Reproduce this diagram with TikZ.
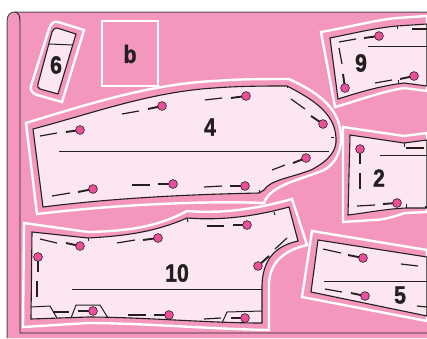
\documentclass[tikz,border=0pt]{standalone}
\usepackage{fontspec}
\setmainfont[FakeStretch=0.85,BoldFeatures={FakeBold=1.2}]{Liberation Sans}
\definecolor{sheetpink}{HTML}{F497BF}
\definecolor{piecepink}{HTML}{FCE6F1}
\definecolor{pinpink}{HTML}{EC4F9A}
\definecolor{inkdark}{HTML}{231F20}
\tikzset{
	seamwhite/.style={draw=white, line width=2.4pt, line join=miter},
	piece/.style={draw=inkdark, line width=1.1pt, fill=piecepink},
	detail/.style={draw=inkdark, line width=1pt},
	dashline/.style={draw=inkdark, line width=1.2pt},
	stub/.style={draw=inkdark, line width=1.9pt},
	pinhead/.style={circle, draw=inkdark, line width=0.6pt, fill=pinpink, inner sep=0pt, minimum size=8.8pt},
	number/.style={font=\bfseries\fontsize{25}{25}\selectfont, text=inkdark, inner sep=0pt}
}
\begin{document}
\begin{tikzpicture}[x=1pt,y=-1pt]
	\useasboundingbox (0,0) rectangle (427,338);
	\clip (0,0) rectangle (427,338);
	% sheet
	\fill[sheetpink] (7,338) -- (7,22) .. controls (7,15) and (10,12) .. (15,12) -- (427,12) -- (427,338) -- cycle;
	\draw[inkdark!80, line width=1pt] (7,338) -- (7,22) .. controls (7,15) and (10,12) .. (15,12) -- (427,12);
	\draw[inkdark, line width=0.9pt] (15,12) .. controls (19,13) and (20,16) .. (20,22) -- (20,333) -- (427,333);
	% piece 6
	\draw[seamwhite] (58,22) -- (84,30) -- (62,102) -- (37,95) .. controls (32,93) and (30,90) .. (31,86) -- (49,29) .. controls (51,23) and (54,21) .. (58,22) -- cycle;
	\draw[piece] (57,28) -- (76,34) -- (58,94) -- (40,89) .. controls (38,88) and (37,86) .. (38,84) -- (52,32) .. controls (53,29) and (55,28) .. (57,28) -- cycle;
	\draw[detail] (49,44) -- (72.5,45);
	% box b
	\draw[seamwhite] (102,21) rectangle (158,86);
	% piece 4
	\draw[seamwhite] (26,123) .. controls (85,105) and (150,84) .. (214,81) .. controls (240,79) and (265,79) .. (289,79) .. controls (312,90) and (341,105) .. (341,138) .. controls (341,152) and (335,164) .. (324,170) .. controls (300,180) and (270,185) .. (264,203) .. controls (220,201) and (130,203) .. (37,214) -- cycle;
	\draw[piece] (33,129) .. controls (90,114) and (150,92) .. (214,88) .. controls (240,86) and (265,86) .. (287,86) .. controls (310,98) and (335,112) .. (336,138) .. controls (337,150) and (330,160) .. (311,170) .. controls (290,178) and (270,180) .. (264,190) -- (259,193) .. controls (215,194) and (130,196) .. (43,207) -- cycle;
	\draw[detail] (59,151) -- (329,151);
	\draw[detail] (287,86) -- (287,88);
	\draw[detail] (259,193) -- (259,190);
	\draw[detail] (334,137) -- (331,137);
	% piece 10
	\draw[seamwhite] (24,223) -- (88,232) .. controls (125,231) and (155,228) .. (187,211) .. controls (225,214) and (260,208) .. (292,199) -- (307,245) .. controls (285,250) and (269,262) .. (269,285) -- (269,330) .. controls (210,329) and (140,323) .. (88,323) -- (23,327) -- cycle;
	\draw[piece] (32,232) -- (88,238) .. controls (125,236) and (155,232) .. (187,218) .. controls (225,221) and (260,215) .. (289,207) -- (298,241) .. controls (280,245) and (263,255) .. (262,285) -- (262,323) .. controls (210,323) and (140,317) .. (88,317) -- (31,319) -- cycle;
	\draw[detail] (72,289) -- (262,289);
	\draw[detail] (31,307) -- (50,306) -- (57,318);
	\draw[detail] (71,318) -- (76,305) -- (100,305) -- (108,318);
	\draw[detail] (222,323) -- (227,312) -- (262,311);
	\draw[detail] (88,238) -- (88,241);
	\draw[detail] (187,218) -- (188,222);
	\draw[detail] (274,212) -- (275,215);
	% piece 9
	\draw[seamwhite] (321,32) .. controls (350,27) and (375,20) .. (397,18) -- (427,16) -- (427,91) -- (404,88) .. controls (380,92) and (360,100) .. (335,107) -- cycle;
	\draw[piece] (330,38) .. controls (355,33) and (375,28) .. (397,26) -- (427,24) -- (427,86) -- (404,83) .. controls (380,86) and (360,92) .. (338,99) -- cycle;
	\draw[detail] (368,46) -- (427,46);
	\draw[detail] (397,26) -- (397,29);
	\draw[detail] (398,80) -- (398,83);
	% piece 2
	\draw[seamwhite] (343,127) -- (404,136) -- (427,133) -- (427,212) -- (405,213) .. controls (395,216) and (385,220) .. (373,220) -- (343,222) -- cycle;
	\draw[piece] (350,135) -- (404,143) -- (427,140) -- (427,208) -- (406,208) .. controls (385,209) and (365,213) .. (348,215) -- cycle;
	\draw[detail] (380,155) -- (427,155);
	\draw[detail] (404,143) -- (404,147);
	\draw[detail] (406,204) -- (406,208);
	% piece 5
	\draw[seamwhite] (312,231) -- (427,250) -- (427,321) -- (302,297) -- cycle;
	\draw[piece] (318,240) -- (427,257) -- (427,316) -- (311,292) -- cycle;
	\draw[detail] (324,281) -- (427,281);
	% long dashes
	\foreach \ax/\ay/\bx/\by in {40/136/57/133, 122/114/139/111, 205/100/222/98, 291/99/305/109, 272/170/285/165, 52/196/70/193, 132/185/150/185, 204/187/222/186,
		40/239/57/243, 117/243/135/240, 207/226/224/226, 37/281/37/297, 287/238/275/249, 53/312/69/312, 128/315/146/315, 204/319/221/318,
		339/42/356/39, 339/48/342/64, 375/83/392/80, 412/29/427/29,
		406/148/424/148, 360/173/360/189, 357/206/375/205, 425/207/427/207,
		323/249/341/253, 325/289/342/292, 401/264/418/266, 417/306/427/307}
		\draw[dashline] (\ax,\ay) -- (\bx,\by);
	% pins with their stubs
	\foreach \sx/\sy/\px/\py [count=\i] in {66/132/80/130, 148/109/162/106, 231/98/246/96, 311/116/323/124, 293/163/306/158, 78/192/93/189, 158/184/173/184, 230/186/245/186,
		66/243/80/246, 143/240/158/238, 38/272/38/257, 78/311/93/311, 154/315/169/315, 233/225/247/225, 269/256/258/266, 231/318/245/318,
		364/38/379/36, 343/74/345/88, 400/79/414/76,
		360/164/360/149, 383/204/397/203,
		348/255/363/258, 351/293/365/296} {
		\draw[stub] (\sx,\sy) -- (\px,\py);
		\node[pinhead] (pin\i) at (\px,\py) {};
	}
	% numbers
	\node[number] (label6) at (56,65) {6};
	\node[number] (labelb) at (130,54) {b};
	\node[number] (label4) at (210,127) {4};
	\node[number] (label9) at (361,63) {9};
	\node[number] (label2) at (379,178) {2};
	\node[number] (label10) at (177,273) {10};
	\node[number] (label5) at (400,295) {5};
\end{tikzpicture}
\end{document}
